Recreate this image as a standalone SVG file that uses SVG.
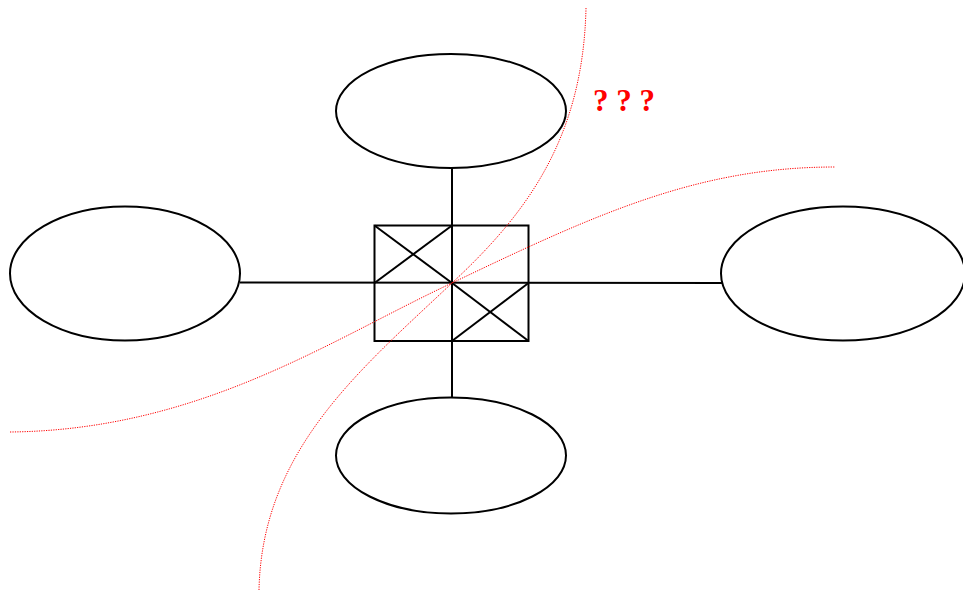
<svg xmlns="http://www.w3.org/2000/svg" width="963" height="591" viewBox="0 0 963 591">
  <style>
    .node { fill: none; stroke: #000; stroke-width: 2; }
    .link { fill: none; stroke: #000; stroke-width: 2; }
    .cut { fill: none; stroke: #f00; stroke-width: 1; stroke-dasharray: 1.2 1.2; }
    .mark { font-family: "Liberation Serif", serif; font-weight: bold; font-size: 31px; fill: #f00; }
  </style>
  <rect width="963" height="591" fill="#fff"/>
  <g id="connectors">
    <line class="link" x1="452" y1="168" x2="452" y2="398"/>
    <line class="link" x1="240" y1="282.5" x2="722" y2="283"/>
  </g>
  <g id="node-top"><ellipse class="node" cx="451" cy="111" rx="115" ry="57"/></g>
  <g id="node-left"><ellipse class="node" cx="125" cy="273.5" rx="115" ry="67"/></g>
  <g id="node-right"><ellipse class="node" cx="843" cy="273.5" rx="122" ry="67"/></g>
  <g id="node-bottom"><ellipse class="node" cx="451" cy="455.5" rx="115" ry="58"/></g>
  <g id="switch">
    <rect class="node" x="374.5" y="225.5" width="154" height="115.5"/>
    <line class="link" x1="374.5" y1="225.5" x2="452" y2="283"/>
    <line class="link" x1="452" y1="225.5" x2="374.5" y2="283"/>
    <line class="link" x1="452" y1="283" x2="528.5" y2="341"/>
    <line class="link" x1="528.5" y1="283" x2="452" y2="341"/>
  </g>
  <g id="cuts">
    <path class="cut" d="M586,8 C583,140 525,215 452,283 C360,370 262,450 259,590"/>
    <path class="cut" d="M10,432 C200,430 330,340 452,283 C600,212 700,167 835,167"/>
  </g>
  <text class="mark" x="593" y="111">? ? ?</text>
</svg>
